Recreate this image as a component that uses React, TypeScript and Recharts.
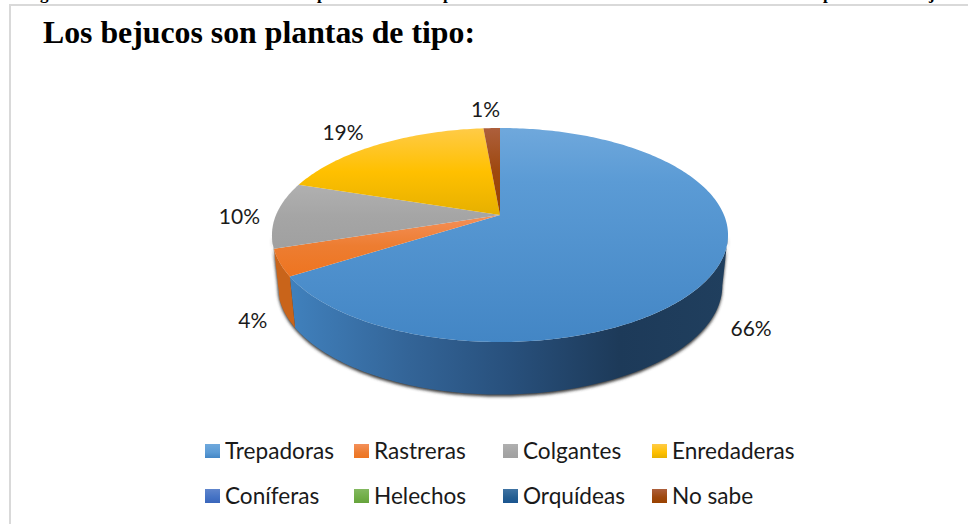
import React from "react";
import { PieChart, Pie, Cell, Legend } from "recharts";

const categories = ["Trepadoras", "Rastreras", "Colgantes", "Enredaderas", "Coníferas", "Helechos", "Orquídeas", "No sabe"];
const shares = [66, 4, 10, 18.6, 0, 0, 0, 1.4];
const baseColors = ["#5B9BD5", "#ED7D31", "#A5A5A5", "#FFC000", "#4472C4", "#70AD47", "#255E91", "#9E480E"];
const lightColors = ["#6FA8DC", "#F4905A", "#B0B0B0", "#FFCB47", "#5F85CC", "#83B960", "#3F73A3", "#AD5F3C"];
const darkColors = ["#4386C5", "#EE7420", "#A0A0A0", "#E6B000", "#3A66BB", "#66A33C", "#1A5590", "#9A4200"];
const wallColors = ["#3F7FBA", "#C9641A", "#8A8A8A", "#C49500", "#3A5FA5", "#5E923B", "#1F4F7B", "#7F3A0B"];
const title = "Los bejucos son plantas de tipo:";
const clippedLetters = ["g", "p", "p", "p", "j"];
const clippedLetterX = [40, 317, 443, 823, 929];

const data = categories.map((name, i) => ({ name, value: shares[i] }));

// Perspective of the disc: a point (u, v) of the unit disc is drawn at
// cx + R*u/(1+P*v), cy - R*K*v/(1+P*v)
const P = 0.187;
const K = 0.461;
const DEPTH = 50;
const BOTTOM_SCALE_X = 0.975;
const BOTTOM_SCALE_Y = 1.02;
const FRONT_FROM = 100.8;
const FRONT_TO = 259.2;

const project = (cx: number, cy: number, r: number, thetaDeg: number, sx = 1, sy = 1) => {
  const t = (thetaDeg * Math.PI) / 180;
  const u = Math.sin(t);
  const v = Math.cos(t);
  const d = 1 + P * v;
  return { x: cx + (r * sx * u) / d, y: cy - (r * sy * K * v) / d };
};

const arcPts = (cx: number, cy: number, r: number, a: number, b: number, sx = 1, sy = 1) => {
  const n = Math.max(1, Math.ceil(Math.abs(b - a)));
  const out: { x: number; y: number }[] = [];
  for (let i = 0; i <= n; i++) out.push(project(cx, cy, r, a + ((b - a) * i) / n, sx, sy));
  return out;
};

const toPath = (pts: { x: number; y: number }[]) =>
  "M" + pts.map((p) => `${p.x.toFixed(2)},${p.y.toFixed(2)}`).join("L") + "Z";

const wallPath = (cx: number, cy: number, r: number, a: number, b: number) => {
  const top = arcPts(cx, cy, r, a, b);
  const bottom = arcPts(cx, cy + DEPTH, r, b, a, BOTTOM_SCALE_X, BOTTOM_SCALE_Y);
  return toPath([...top, ...bottom]);
};

const Slice = (props: any) => {
  const { cx, cy, outerRadius, startAngle, endAngle, name } = props;
  const i = categories.indexOf(name);
  const a = 90 - startAngle;
  const b = 90 - endAngle;
  if (b - a <= 0) return <g />;
  const wa = Math.max(a, FRONT_FROM);
  const wb = Math.min(b, FRONT_TO);
  return (
    <g>
      {i === 0 && (
        <path d={wallPath(cx, cy + 2, outerRadius, FRONT_FROM, FRONT_TO)} fill="#3a3a3a" filter="url(#pieShadow)" />
      )}
      {wb > wa && <path d={wallPath(cx, cy, outerRadius, wa, wb)} fill={i === 0 ? "url(#wallBlue)" : wallColors[i]} />}
      <path d={toPath([{ x: cx, y: cy }, ...arcPts(cx, cy, outerRadius, a, b)])} fill={`url(#top${i})`} />
    </g>
  );
};

const labelNudges = [
  { dx: 3, dy: 50 },
  { dx: 6, dy: 50 },
  { dx: -3, dy: 0 },
  { dx: -17, dy: -2 },
  { dx: 0, dy: 0 },
  { dx: 0, dy: 0 },
  { dx: 0, dy: 0 },
  { dx: -5, dy: -7 },
];

const renderLabel = (props: any) => {
  const { cx, cy, outerRadius, midAngle, value, name } = props;
  if (!value) return null;
  const i = categories.indexOf(name);
  const p = project(cx, cy, outerRadius * 1.15, 90 - midAngle);
  return (
    <text
      x={p.x + labelNudges[i].dx}
      y={p.y + labelNudges[i].dy}
      textAnchor="middle"
      dominantBaseline="central"
      fontFamily="Lato, sans-serif"
      fontSize={21}
      fill="#1a1a1a"
    >
      {Math.round(value)}%
    </text>
  );
};

const legendX = [205, 354, 503, 652];
const legendY = [444, 489];

const renderLegend = () => (
  <div style={{ position: "absolute", left: 0, top: 0, width: 968, height: 524, pointerEvents: "none" }}>
    {categories.map((name, i) => {
      const left = legendX[i % 4];
      const top = legendY[Math.floor(i / 4)];
      return (
        <React.Fragment key={name}>
          <div
            style={{
              position: "absolute",
              left,
              top,
              width: 15,
              height: 14,
              background: `linear-gradient(${lightColors[i]}, ${baseColors[i]} 60%, ${darkColors[i]})`,
            }}
          />
          <div
            style={{
              position: "absolute",
              left: left + 20,
              top: top - 6,
              lineHeight: "26px",
              fontFamily: "Lato, sans-serif",
              fontSize: 22.6,
              color: "#1a1a1a",
              whiteSpace: "nowrap",
            }}
          >
            {name}
          </div>
        </React.Fragment>
      );
    })}
  </div>
);

export default function App() {
  return (
    <div style={{ position: "absolute", left: 0, top: 0, width: 968, height: 524, overflow: "hidden", background: "#fff" }}>
      <svg width={0} height={0} style={{ position: "absolute" }}>
        <defs>
          {categories.map((_, i) => (
            <linearGradient key={i} id={`top${i}`} x1="0" y1="0" x2="0" y2="1">
              <stop offset="0" stopColor={lightColors[i]} />
              <stop offset={i === 0 ? "0.25" : "0.5"} stopColor={baseColors[i]} />
              <stop offset="1" stopColor={darkColors[i]} />
            </linearGradient>
          ))}
          <linearGradient id="wallBlue" gradientUnits="userSpaceOnUse" x1="292" y1="0" x2="728" y2="0">
            <stop offset="0" stopColor="#4080BC" />
            <stop offset="0.27" stopColor="#336497" />
            <stop offset="0.5" stopColor="#28507C" />
            <stop offset="0.75" stopColor="#1D3A59" />
            <stop offset="1" stopColor="#203F5E" />
          </linearGradient>
          <filter id="pieShadow" x="-5%" y="-5%" width="110%" height="110%">
            <feGaussianBlur stdDeviation="1.6" />
          </filter>
        </defs>
      </svg>

      <div style={{ position: "absolute", left: 9, top: 4, right: 0, height: 2, background: "#D9D9D9" }} />
      <div style={{ position: "absolute", left: 9, top: 4, bottom: 0, width: 2, background: "#D9D9D9" }} />

      {clippedLetters.map((ch, i) => (
        <div
          key={i}
          style={{
            position: "absolute",
            left: clippedLetterX[i],
            top: -16,
            lineHeight: "20px",
            fontFamily: "'Liberation Serif', serif",
            fontWeight: 700,
            fontSize: 17,
            color: "#000",
          }}
        >
          {ch}
        </div>
      ))}

      <div
        style={{
          position: "absolute",
          left: 43,
          top: 15,
          lineHeight: "36px",
          fontFamily: "'Liberation Serif', serif",
          fontWeight: 700,
          fontSize: 31.8,
          color: "#000",
          whiteSpace: "nowrap",
        }}
      >
        {title}
      </div>

      <div style={{ position: "absolute", left: 0, top: 0 }}>
        <PieChart width={968} height={524} margin={{ top: 0, right: 0, bottom: 0, left: 0 }}>
          <Pie
            data={data}
            dataKey="value"
            nameKey="name"
            cx={500}
            cy={215}
            outerRadius={224}
            startAngle={90}
            endAngle={-270}
            stroke="none"
            isAnimationActive={false}
            labelLine={false}
            label={renderLabel}
            shape={Slice}
            inactiveShape={Slice}
            activeShape={Slice}
          >
            {categories.map((_, i) => (
              <Cell key={i} fill={baseColors[i]} />
            ))}
          </Pie>
          <Legend content={renderLegend} wrapperStyle={{ position: "absolute", left: 0, top: 0, width: 968, height: 524 }} />
        </PieChart>
      </div>
    </div>
  );
}
